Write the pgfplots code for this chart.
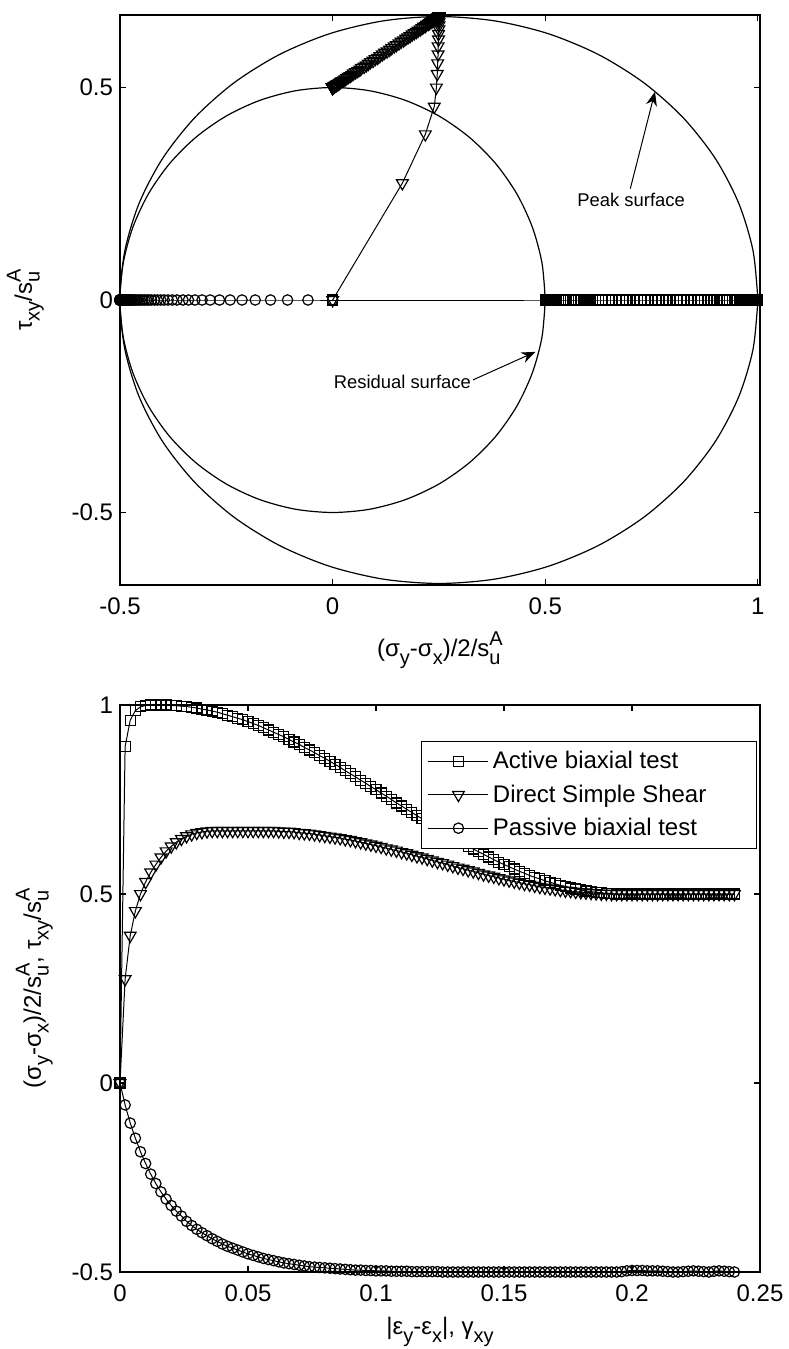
\documentclass[border=0pt]{standalone}
\usepackage{fontspec}
\setmainfont{Liberation Sans}
\usepackage{pgfplots}
\pgfplotsset{compat=1.18}
\usepackage{pgfplotstable}
\usetikzlibrary{arrows.meta}

% MATLAB-like sub/superscripts
\newcommand{\lo}[1]{\raisebox{-0.6ex}{\fontsize{10}{10}\selectfont #1}}
\newcommand{\su}{s\rlap{\lo{u}}\raisebox{0.9ex}{\fontsize{10}{10}\selectfont A}}
\newcommand{\leg}[1]{\makebox[127pt][l]{#1}}

% g = |eps_y-eps_x| or gamma_xy ; A active ; T dss tau ; S dss (sy-sx)/2 ; P passive
\pgfplotstableread{
g A T S P
0 0 0 0 0
0.002 0.890 0.275 0.164 -0.058
0.004 0.960 0.390 0.218 -0.106
0.006 0.985 0.455 0.239 -0.146
0.008 0.995 0.500 0.244 -0.182
0.010 0.999 0.532 0.246 -0.213
0.012 1.000 0.557 0.247 -0.241
0.014 1.000 0.578 0.248 -0.266
0.016 1.000 0.597 0.248 -0.288
0.018 1.000 0.613 0.249 -0.307
0.020 0.999 0.626 0.249 -0.324
0.022 0.998 0.637 0.250 -0.339
0.024 0.997 0.646 0.250 -0.352
0.026 0.996 0.653 0.250 -0.366
0.028 0.994 0.658 0.250 -0.377
0.030 0.992 0.662 0.250 -0.387
0.032 0.989 0.664 0.250 -0.396
0.034 0.987 0.666 0.250 -0.404
0.036 0.984 0.667 0.250 -0.412
0.038 0.981 0.667 0.250 -0.419
0.040 0.977 0.667 0.250 -0.426
0.042 0.973 0.667 0.250 -0.432
0.044 0.969 0.667 0.250 -0.437
0.046 0.965 0.667 0.250 -0.442
0.048 0.961 0.667 0.250 -0.447
0.050 0.956 0.667 0.250 -0.452
0.052 0.951 0.667 0.250 -0.456
0.054 0.946 0.667 0.250 -0.460
0.056 0.940 0.667 0.250 -0.464
0.058 0.934 0.667 0.250 -0.467
0.060 0.928 0.667 0.250 -0.470
0.062 0.922 0.666 0.249 -0.473
0.064 0.916 0.665 0.248 -0.476
0.066 0.909 0.665 0.247 -0.478
0.068 0.902 0.664 0.245 -0.480
0.070 0.896 0.662 0.244 -0.482
0.072 0.888 0.661 0.242 -0.484
0.074 0.881 0.660 0.239 -0.486
0.076 0.874 0.658 0.237 -0.487
0.078 0.866 0.656 0.234 -0.488
0.080 0.859 0.654 0.231 -0.489
0.082 0.851 0.652 0.228 -0.490
0.084 0.843 0.650 0.225 -0.491
0.086 0.835 0.648 0.221 -0.492
0.088 0.826 0.645 0.218 -0.493
0.090 0.818 0.643 0.214 -0.494
0.092 0.810 0.640 0.210 -0.495
0.094 0.801 0.637 0.206 -0.495
0.096 0.793 0.634 0.201 -0.496
0.098 0.784 0.631 0.197 -0.496
0.100 0.776 0.628 0.192 -0.497
0.102 0.767 0.625 0.187 -0.497
0.104 0.759 0.621 0.182 -0.497
0.106 0.750 0.618 0.177 -0.498
0.108 0.741 0.615 0.172 -0.498
0.110 0.733 0.611 0.167 -0.498
0.112 0.724 0.608 0.161 -0.498
0.114 0.716 0.604 0.156 -0.499
0.116 0.707 0.600 0.150 -0.499
0.118 0.699 0.597 0.145 -0.499
0.120 0.690 0.593 0.139 -0.499
0.122 0.682 0.589 0.134 -0.499
0.124 0.674 0.585 0.128 -0.499
0.126 0.665 0.582 0.122 -0.500
0.128 0.657 0.578 0.117 -0.500
0.130 0.649 0.574 0.111 -0.500
0.132 0.642 0.570 0.106 -0.500
0.134 0.634 0.567 0.100 -0.500
0.136 0.626 0.563 0.095 -0.500
0.138 0.619 0.560 0.089 -0.500
0.140 0.612 0.556 0.084 -0.500
0.142 0.605 0.552 0.079 -0.500
0.144 0.598 0.549 0.074 -0.500
0.146 0.591 0.546 0.068 -0.500
0.148 0.584 0.542 0.064 -0.500
0.150 0.578 0.539 0.059 -0.500
0.152 0.572 0.536 0.054 -0.500
0.154 0.566 0.533 0.049 -0.500
0.156 0.560 0.530 0.045 -0.500
0.158 0.555 0.527 0.041 -0.500
0.160 0.549 0.525 0.037 -0.500
0.162 0.544 0.522 0.033 -0.500
0.164 0.540 0.519 0.029 -0.500
0.166 0.535 0.517 0.026 -0.500
0.168 0.531 0.515 0.022 -0.500
0.170 0.527 0.513 0.019 -0.500
0.172 0.523 0.511 0.016 -0.500
0.174 0.520 0.509 0.014 -0.500
0.176 0.516 0.508 0.011 -0.500
0.178 0.513 0.506 0.009 -0.500
0.180 0.511 0.505 0.007 -0.500
0.182 0.508 0.504 0.005 -0.500
0.184 0.506 0.503 0.004 -0.500
0.186 0.505 0.502 0.003 -0.500
0.188 0.503 0.501 0.002 -0.500
0.190 0.502 0.501 0.001 -0.500
0.192 0.501 0.500 0.000 -0.500
0.194 0.500 0.500 0.000 -0.500
0.196 0.500 0.500 0.000 -0.499
0.198 0.500 0.500 0.000 -0.497
0.200 0.500 0.500 0.000 -0.496
0.202 0.500 0.500 0.000 -0.496
0.204 0.500 0.500 0.000 -0.496
0.206 0.500 0.500 0.000 -0.497
0.208 0.500 0.500 0.000 -0.497
0.210 0.500 0.500 0.000 -0.497
0.212 0.500 0.500 0.000 -0.498
0.214 0.500 0.500 0.000 -0.499
0.216 0.500 0.500 0.000 -0.500
0.218 0.500 0.500 0.000 -0.500
0.220 0.500 0.500 0.000 -0.499
0.222 0.500 0.500 0.000 -0.498
0.224 0.500 0.500 0.000 -0.497
0.226 0.500 0.500 0.000 -0.498
0.228 0.500 0.500 0.000 -0.499
0.230 0.500 0.500 0.000 -0.500
0.232 0.500 0.500 0.000 -0.498
0.234 0.500 0.500 0.000 -0.497
0.236 0.500 0.500 0.000 -0.498
0.238 0.500 0.500 0.000 -0.499
0.240 0.500 0.500 0.000 -0.500
}\resp

% peak surface (ellipse) and residual surface (circle)
\pgfplotstableread{
x y
1.0 0
0.9886 0.1158
0.9548 0.2281
0.8995 0.3335
0.8245 0.4287
0.7321 0.5109
0.625 0.5776
0.5065 0.6268
0.3802 0.6569
0.25 0.667
0.1198 0.6569
-0.0065 0.6268
-0.125 0.5776
-0.2321 0.5109
-0.3245 0.4287
-0.3995 0.3335
-0.4548 0.2281
-0.4886 0.1158
-0.5 0
-0.4886 -0.1158
-0.4548 -0.2281
-0.3995 -0.3335
-0.3245 -0.4287
-0.2321 -0.5109
-0.125 -0.5776
-0.0065 -0.6268
0.1198 -0.6569
0.25 -0.667
0.3802 -0.6569
0.5065 -0.6268
0.625 -0.5776
0.7321 -0.5109
0.8245 -0.4287
0.8995 -0.3335
0.9548 -0.2281
0.9886 -0.1158
1.0 0
}\peak

\pgfplotstableread{
x y
0.5 0
0.4924 0.0868
0.4698 0.1710
0.4330 0.25
0.3830 0.3214
0.3214 0.3830
0.25 0.4330
0.1710 0.4698
0.0868 0.4924
0 0.5
-0.0868 0.4924
-0.1710 0.4698
-0.25 0.4330
-0.3214 0.3830
-0.3830 0.3214
-0.4330 0.25
-0.4698 0.1710
-0.4924 0.0868
-0.5 0
-0.4924 -0.0868
-0.4698 -0.1710
-0.4330 -0.25
-0.3830 -0.3214
-0.3214 -0.3830
-0.25 -0.4330
-0.1710 -0.4698
-0.0868 -0.4924
0 -0.5
0.0868 -0.4924
0.1710 -0.4698
0.25 -0.4330
0.3214 -0.3830
0.3830 -0.3214
0.4330 -0.25
0.4698 -0.1710
0.4924 -0.0868
0.5 0
}\resid

\pgfplotsset{
  mlab/.style={
    scale only axis, width=320pt, clip=false,
    axis line style={line width=0.8pt},
    every tick/.style={black, line width=0.6pt},
    major tick length=3pt,
    /pgf/number format/assume math mode=true,
    tick label style={font=\fontsize{12}{14}\selectfont},
    xticklabel style={yshift=-3pt},
    label style={font=\fontsize{12}{14}\selectfont},
  },
  act/.style={black, line width=0.5pt, mark=square, mark size=2.5pt, mark options={line width=0.6pt}},
  dss/.style={black, line width=0.5pt, mark=triangle, mark size=3.4pt, mark options={rotate=180, line width=0.6pt}},
  pas/.style={black, line width=0.5pt, mark=o, mark size=2.6pt, mark options={line width=0.6pt}},
}

\begin{document}
\begin{tikzpicture}
\path[use as bounding box] (-60pt,-382pt) rectangle (334pt,292.5pt);

% top: stress paths
\begin{axis}[mlab,
  at={(0pt,0pt)}, anchor=south west, height=285pt,
  xmin=-0.5, xmax=1.005, ymin=-0.6706, ymax=0.6706,
  xtick={-0.5,0,0.5,1}, ytick={-0.5,0,0.5},
  xlabel={(σ\lo{y}-σ\lo{x})/2/\su},
  ylabel={τ\lo{xy}/\su},
  xlabel style={at={(axis description cs:0.5,-0.114)}, anchor=center},
  ylabel style={at={(axis description cs:-0.148,0.5)}, anchor=center},
]
\addplot[black, line width=0.6pt, smooth] table[x=x, y=y] {\peak};
\addplot[black, line width=0.6pt, smooth] table[x=x, y=y] {\resid};
\addplot[act] table[x=A, y expr=0] {\resp};
\addplot[dss] table[x=S, y=T] {\resp};
\addplot[pas] table[x=P, y expr=0] {\resp};
\node[font=\fontsize{9.2}{11}\selectfont] at (axis cs:0.702,0.235) {Peak surface};
\draw[-{Stealth[length=7pt,width=5.5pt]}, line width=0.5pt] (axis cs:0.700,0.262) -- (axis cs:0.758,0.490);
\node[font=\fontsize{9.2}{11}\selectfont] at (axis cs:0.164,-0.193) {Residual surface};
\draw[-{Stealth[length=7pt,width=5.5pt]}, line width=0.5pt] (axis cs:0.330,-0.188) -- (axis cs:0.477,-0.122);
\end{axis}

% bottom: stress vs strain
\begin{axis}[mlab,
  at={(0pt,-343.5pt)}, anchor=south west, height=283.5pt,
  xmin=0, xmax=0.25, ymin=-0.5, ymax=1,
  xtick={0,0.05,0.1,0.15,0.2,0.25},
  xticklabels={0,0.05,0.1,0.15,0.2,0.25},
  ytick={-0.5,0,0.5,1},
  xlabel={|ε\lo{y}-ε\lo{x}|, γ\lo{xy}},
  ylabel={(σ\lo{y}-σ\lo{x})/2/\su, τ\lo{xy}/\su},
  xlabel style={at={(axis description cs:0.5,-0.106)}, anchor=center},
  ylabel style={at={(axis description cs:-0.134,0.5)}, anchor=center},
  legend style={at={(rel axis cs:0.471,0.937)}, anchor=north west,
    draw=black, line width=0.5pt, font=\fontsize{12}{14}\selectfont,
    inner xsep=3pt, inner ysep=3pt, row sep=2.5pt, cells={anchor=west}},
  legend image code/.code={\draw[mark repeat=2,mark phase=2,#1] plot coordinates {(0pt,0pt) (15pt,0pt) (30pt,0pt)};},
]
\addplot[act] table[x=g, y=A] {\resp};
\addlegendentry{\leg{Active biaxial test}}
\addplot[dss] table[x=g, y=T] {\resp};
\addlegendentry{\leg{Direct Simple Shear}}
\addplot[pas] table[x=g, y=P] {\resp};
\addlegendentry{\leg{Passive biaxial test}}
\end{axis}
\end{tikzpicture}
\end{document}
